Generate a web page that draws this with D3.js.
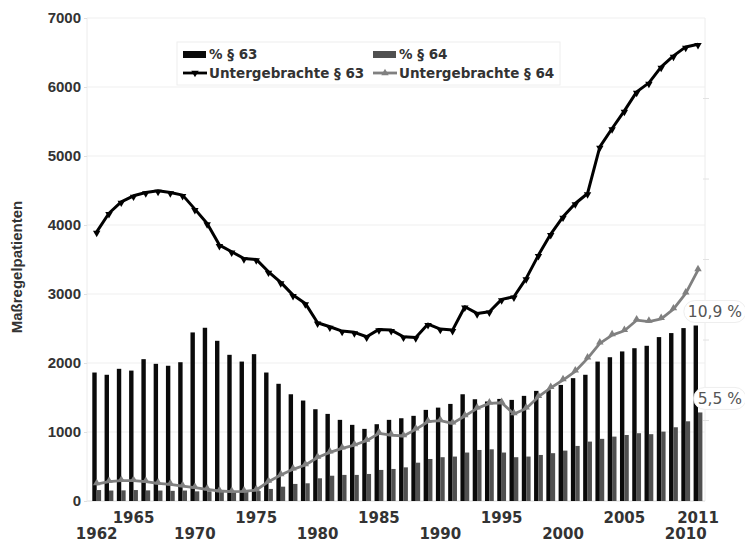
<!DOCTYPE html>
<html><head><meta charset="utf-8">
<script src="https://cdn.jsdelivr.net/npm/d3@7/dist/d3.min.js"></script>
<style>
html,body{margin:0;padding:0;background:#fff;}
text{font-family:"DejaVu Sans",sans-serif;}
</style></head>
<body>
<svg id="chart" width="745" height="543"></svg>
<script>
const years = d3.range(1962, 2012);
const unter63 = [3900,4170,4336,4423,4471,4495,4471,4433,4230,4023,
                 3709,3612,3515,3501,3322,3168,2984,2864,2583,2525,
                 2463,2444,2380,2487,2477,2380,2371,2564,2492,2477,
                 2815,2719,2743,2922,2960,3226,3564,3868,4119,4312,
                 4457,5133,5399,5654,5929,6060,6292,6451,6581,6620];
const unter64 = [246,280,294,294,280,256,241,217,193,169,
                 145,135,140,159,280,377,459,522,630,705,
                 763,811,874,980,956,942,1038,1149,1164,1125,
                 1231,1342,1415,1424,1260,1342,1511,1640,1753,1880,
                 2067,2285,2405,2467,2620,2600,2640,2780,3009,3346];
const pct63 = [7.98,7.84,8.21,8.10,8.81,8.52,8.40,8.62,10.47,10.76,
               9.95,9.08,8.66,9.12,7.98,7.28,6.63,6.24,5.70,5.41,
               5.04,4.73,4.48,4.77,5.04,5.14,5.29,5.66,5.80,6.03,
               6.63,6.32,6.18,6.34,6.28,6.53,6.84,6.90,7.21,7.63,
               7.84,8.66,8.93,9.29,9.49,9.64,10.18,10.43,10.74,10.9];
const pct64 = [0.68,0.65,0.66,0.68,0.66,0.65,0.63,0.65,0.6,0.6,
               0.58,0.6,0.6,0.62,0.75,0.89,1.06,1.10,1.41,1.57,
               1.62,1.62,1.68,1.93,1.99,2.09,2.38,2.61,2.72,2.76,
               3.01,3.17,3.21,3.01,2.72,2.76,2.86,2.97,3.13,3.42,
               3.69,3.86,4.00,4.10,4.21,4.15,4.31,4.58,4.95,5.5];
const yTicks = [0,1000,2000,3000,4000,5000,6000,7000];
const rightTicks = [5,10,15,20,25];
const xLabelsUpper = [1965,1975,1985,1995,2005,2011];
const xLabelsLower = [1962,1970,1980,1990,2000,2010];
const seriesKeys = ["p63","p64"];
const legendLabels = ["% § 63","% § 64","Untergebrachte § 63","Untergebrachte § 64"];
const endLabels = ["10,9 %","5,5 %"];
const yTitle = "Maßregelpatienten";

(function(){
const svg = d3.select("#chart");
const pl = 87, pr = 705, pt = 18, pb = 501;
const axisFont = "'Liberation Sans',Arial,sans-serif";
const x = d3.scalePoint().domain(years).range([96.7, 698]);
const xs = d3.scaleBand().domain(seriesKeys).range([-4.4, 4.4]);
const y = d3.scaleLinear().domain([0,7000]).range([pb, pt]);
const y2 = d3.scaleLinear().domain([0,30]).range([pb, pt]);

svg.append("g").selectAll("line").data(yTicks).join("line")
  .attr("x1", pl).attr("x2", pr)
  .attr("y1", d=>y(d)).attr("y2", d=>y(d))
  .attr("stroke", d=> d===0 ? "#dcdcdc" : "#efefef").attr("stroke-width",1);
svg.append("line").attr("x1",pl).attr("x2",pl).attr("y1",pt).attr("y2",pb).attr("stroke","#ececec");
svg.append("line").attr("x1",pr).attr("x2",pr).attr("y1",pt).attr("y2",pb).attr("stroke","#ececec");
svg.append("g").selectAll("line").data(rightTicks).join("line")
  .attr("x1", pr-2).attr("x2", pr+4)
  .attr("y1", d=>y2(d)).attr("y2", d=>y2(d)).attr("stroke","#e2e2e2");

const ax = svg.append("g").attr("transform",`translate(${pl},0)`)
  .call(d3.axisLeft(y).tickValues(yTicks).tickFormat(d3.format("d")).tickSize(3).tickPadding(3));
ax.select(".domain").remove();
ax.selectAll(".tick line").attr("stroke","#e0e0e0");
ax.selectAll(".tick text").attr("fill","#333").style("font-size","15px").style("font-weight","bold")
  .style("font-family",axisFont);

svg.append("text").attr("transform","translate(22,267) rotate(-90)")
  .attr("text-anchor","middle").attr("fill","#333").style("font-family",axisFont)
  .style("font-size","15px").style("font-weight","bold").text(yTitle);

const barData = years.map((yr,i)=>({yr, p63:pct63[i], p64:pct64[i]}));
const colors = {p63:"#0a0a0a", p64:"#505050"};
const gBars = svg.append("g");
seriesKeys.forEach(k=>{
  gBars.append("g").selectAll("rect").data(barData).join("rect")
    .attr("x", d=>x(d.yr)+xs(k))
    .attr("width", xs.bandwidth())
    .attr("y", d=>y2(d[k]))
    .attr("height", d=>pb - y2(d[k]))
    .attr("fill", colors[k]);
});

const line = d3.line().x(d=>x(d[0])).y(d=>y(d[1]));
const d63 = years.map((yr,i)=>[yr, unter63[i]]);
const d64 = years.map((yr,i)=>[yr, unter64[i]]);
const tri = d3.symbol().type(d3.symbolTriangle).size(24);
svg.append("path").datum(d64).attr("d", line).attr("fill","none")
  .attr("stroke","#808080").attr("stroke-width",2.8).attr("stroke-linejoin","round");
svg.append("g").selectAll("path").data(d64).join("path")
  .attr("d", tri).attr("transform", d=>`translate(${x(d[0])},${y(d[1])-1})`).attr("fill","#808080");
svg.append("path").datum(d63).attr("d", line).attr("fill","none")
  .attr("stroke","#000").attr("stroke-width",3).attr("stroke-linejoin","round");
svg.append("g").selectAll("path").data(d63).join("path")
  .attr("d", tri).attr("transform", d=>`translate(${x(d[0])},${y(d[1])+1}) rotate(180)`).attr("fill","#000");

const xl = svg.append("g").attr("fill","#333").style("font-family",axisFont)
  .style("font-size","15px").style("font-weight","bold");
xl.selectAll("text.u").data(xLabelsUpper).join("text").attr("class","u")
  .attr("x", d=>x(d)).attr("y", 522.5).attr("text-anchor","middle").text(d=>d);
xl.selectAll("text.l").data(xLabelsLower).join("text").attr("class","l")
  .attr("x", d=>x(d)).attr("y", 539.3).attr("text-anchor","middle").text(d=>d);

const lastYr = years[years.length-1];
const endVals = [pct63[pct63.length-1], pct64[pct64.length-1]];
endVals.forEach((v,i)=>{
  const cy = y2(v) - 14;
  const g = svg.append("g");
  const t = g.append("text").attr("x", x(lastYr)+44).attr("y", cy).attr("dy","0.36em")
    .attr("text-anchor","end").attr("fill","#555").style("font-size","15.5px").text(endLabels[i]);
  const bb = t.node().getBBox();
  g.insert("rect","text").attr("x", bb.x-4).attr("y", cy-11).attr("width", bb.width+8).attr("height", 22)
    .attr("rx", 11).attr("fill","#fff").attr("stroke","#eeeeee");
});

const lg = svg.append("g");
lg.append("rect").attr("x",177).attr("y",42).attr("width",383).attr("height",43)
  .attr("fill","#fff").attr("stroke","#eeeeee");
const legX = [183, 373];
const rowY = [54.5, 73];
[["p63",0],["p64",1]].forEach(([k,i])=>{
  lg.append("rect").attr("x",legX[i]).attr("y",rowY[0]-3.5).attr("width",23).attr("height",7).attr("fill",colors[k]);
  lg.append("text").attr("x",legX[i]+26).attr("y",rowY[0]).attr("dy","0.36em")
    .attr("fill","#333").style("font-size","13.5px").style("font-weight","bold").text(legendLabels[i]);
});
[["#000",0,180],["#808080",1,0]].forEach(([c,i,rot])=>{
  lg.append("line").attr("x1",legX[i]).attr("x2",legX[i]+24).attr("y1",rowY[1]).attr("y2",rowY[1])
    .attr("stroke",c).attr("stroke-width",2.8);
  lg.append("path").attr("d",tri).attr("fill",c)
    .attr("transform",`translate(${legX[i]+12},${rowY[1]}) rotate(${rot})`);
  lg.append("text").attr("x",legX[i]+26).attr("y",rowY[1]).attr("dy","0.36em")
    .attr("fill","#333").style("font-size","13.5px").style("font-weight","bold").text(legendLabels[2+i]);
});
})();
</script>
</body></html>
